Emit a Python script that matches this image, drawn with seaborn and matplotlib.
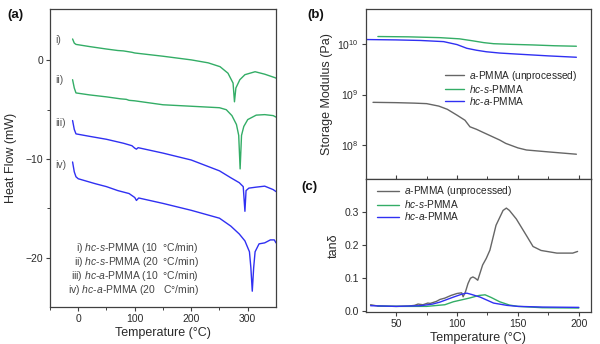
import matplotlib
matplotlib.use("Agg")
import matplotlib.pyplot as plt
import matplotlib.ticker as mticker
import numpy as np
import pandas as pd
import seaborn as sns

sns.set_theme(style="ticks")
plt.rcParams["font.family"] = ["Liberation Sans", "DejaVu Sans"]
plt.rcParams["mathtext.fontset"] = "custom"
plt.rcParams["mathtext.rm"] = "Liberation Sans"
plt.rcParams["mathtext.it"] = "Liberation Sans:italic"
plt.rcParams["mathtext.default"] = "regular"

GREEN = "#33ad66"
BLUE = "#3030f2"
GRAY = "#666666"
EDGE = "#404040"
TXT = "#2a2a2a"

# ---- DSC heat-flow traces (panel a) ----
dsc_i_T = [-10, -7, -4, 20, 50, 70, 80, 95, 100, 150, 200, 230, 251, 265, 274, 276.5,
           279, 286, 295, 313, 330, 348, 350]
dsc_i_hf = [2.17, 1.75, 1.62, 1.40, 1.15, 1.00, 0.96, 0.82, 0.75, 0.42, 0.05, -0.25, -0.64,
            -1.30, -2.30, -4.20, -2.80, -1.96, -1.45, -1.15, -1.40, -1.75, -1.80]

dsc_ii_T = [-10, -7, -4, 20, 50, 75, 85, 90, 100, 150, 200, 250, 262, 272, 280, 284,
            286.5, 289, 293, 300, 315, 330, 345, 350]
dsc_ii_hf = [-1.96, -2.80, -3.30, -3.50, -3.70, -3.90, -3.95, -4.05, -4.10, -4.50, -4.65,
             -4.80, -5.00, -5.60, -6.50, -7.60, -11.00, -7.60, -6.70, -6.00, -5.55, -5.50,
             -5.60, -5.75]

dsc_iii_T = [-10, -7, -4, 20, 50, 80, 95, 100, 103, 106, 150, 200, 250, 270, 285, 292,
             295, 297, 302, 315, 330, 345, 350]
dsc_iii_hf = [-6.10, -7.00, -7.45, -7.70, -8.00, -8.40, -8.65, -8.90, -9.00, -8.85, -9.40,
              -10.10, -11.20, -11.90, -12.40, -12.80, -15.30, -13.20, -12.95, -12.85,
              -12.75, -13.10, -13.30]

dsc_iv_T = [-10, -7, -4, 0, 30, 50, 70, 90, 100, 103, 107, 150, 200, 250, 270, 285, 295,
            303, 305.5, 308, 310.5, 313, 320, 330, 340, 347, 350]
dsc_iv_hf = [-10.30, -11.30, -11.80, -12.00, -12.50, -12.80, -13.20, -13.50, -13.90,
             -14.20, -13.95, -14.50, -15.20, -16.00, -16.80, -17.60, -18.30, -19.40,
             -21.00, -23.40, -21.00, -19.40, -18.60, -18.50, -18.20, -18.20, -18.50]

dsc_tags = ["i)", "ii)", "iii)", "iv)"]
dsc_tag_y = [2.1, -1.95, -6.35, -10.6]
dsc_notes = [
    r"i) $\mathit{hc}$-$\mathit{s}$-PMMA (10  °C/min)",
    r"ii) $\mathit{hc}$-$\mathit{s}$-PMMA (20  °C/min)",
    r"iii) $\mathit{hc}$-$\mathit{a}$-PMMA (10  °C/min)",
    r"iv) $\mathit{hc}$-$\mathit{a}$-PMMA (20   C°/min)",
]

# ---- DMA storage modulus (panel b) ----
mod_a_T = [31, 50, 65, 75, 85, 92, 100, 106.5, 110.6, 116, 121, 135, 140, 150, 157, 176, 198]
mod_a_E = [7.0e8, 6.9e8, 6.75e8, 6.6e8, 5.9e8, 5.1e8, 3.9e8, 3.1e8, 2.3e8, 2.05e8, 1.8e8,
           1.26e8, 1.08e8, 8.8e7, 8.0e7, 7.3e7, 6.6e7]
mod_s_T = [35, 60, 86, 102, 113, 122, 130, 145, 162, 180, 198]
mod_s_E = [1.40e10, 1.38e10, 1.33e10, 1.26e10, 1.15e10, 1.06e10, 1.01e10, 9.8e9, 9.55e9,
           9.2e9, 9.0e9]
mod_c_T = [26, 50, 70, 89, 100, 108, 116, 124, 135, 149, 175, 198]
mod_c_E = [1.22e10, 1.20e10, 1.17e10, 1.11e10, 9.7e9, 8.2e9, 7.5e9, 7.0e9, 6.6e9, 6.3e9,
           5.8e9, 5.45e9]

# ---- loss factor (panel c) ----
tan_a_T = [29, 35, 50, 60, 65, 68, 72, 76, 78, 83, 86, 90, 95, 100, 103.8, 105, 107, 109,
           111, 113, 115, 117, 121, 124, 127, 132, 137.8, 140.5, 143, 148.7, 157, 162.4,
           169, 182, 195, 199]
tan_a_v = [0.020, 0.016, 0.015, 0.016, 0.018, 0.022, 0.020, 0.025, 0.024, 0.030, 0.036,
           0.040, 0.048, 0.054, 0.056, 0.044, 0.060, 0.084, 0.100, 0.104, 0.100, 0.094,
           0.140, 0.160, 0.185, 0.260, 0.305, 0.312, 0.305, 0.279, 0.229, 0.196, 0.184,
           0.176, 0.176, 0.181]
tan_s_T = [35, 50, 75, 90, 97, 110, 118, 123, 128, 135, 143, 150, 170, 200]
tan_s_v = [0.016, 0.015, 0.015, 0.020, 0.029, 0.040, 0.048, 0.050, 0.042, 0.029, 0.019,
           0.015, 0.011, 0.010]
tan_c_T = [29, 50, 70, 80, 86, 97, 104, 108, 112, 119, 130, 141, 150, 170, 200]
tan_c_v = [0.017, 0.015, 0.017, 0.022, 0.028, 0.043, 0.052, 0.055, 0.051, 0.043, 0.025,
           0.018, 0.015, 0.013, 0.012]

legend_labels = [r"$\mathit{a}$-PMMA (unprocessed)", r"$\mathit{hc}$-$\mathit{s}$-PMMA",
                 r"$\mathit{hc}$-$\mathit{a}$-PMMA"]

fig = plt.figure(figsize=(6.0, 3.44), dpi=100)
ax_a = fig.add_axes([0.0833, 0.1076, 0.3767, 0.866])
ax_b = fig.add_axes([0.6095, 0.4797, 0.3755, 0.4941])
ax_c = fig.add_axes([0.6095, 0.0930, 0.3755, 0.3867])

lw = 1.0


def draw(ax, x, y, color, label=None):
    df = pd.DataFrame({"x": x, "y": y})
    sns.lineplot(data=df, x="x", y="y", ax=ax, color=color, lw=lw, estimator=None,
                 sort=False, label=label, legend=False)


# panel a
for T, hf, col in [(dsc_i_T, dsc_i_hf, GREEN), (dsc_ii_T, dsc_ii_hf, GREEN),
                   (dsc_iii_T, dsc_iii_hf, BLUE), (dsc_iv_T, dsc_iv_hf, BLUE)]:
    draw(ax_a, T, hf, col)
for tag, yy in zip(dsc_tags, dsc_tag_y):
    ax_a.text(-40, yy, tag, fontsize=7.5, color="#555555", ha="left", va="center")
for k, note in enumerate(dsc_notes):
    ax_a.text(0.659, 0.198 - k * 0.047, note, transform=ax_a.transAxes, fontsize=7.5,
              color="#444444", ha="right", va="center")
ax_a.set_xlim(-50, 350)
ax_a.set_ylim(-25, 5.2)
ax_a.xaxis.set_major_locator(mticker.FixedLocator([0, 100, 200, 300]))
ax_a.xaxis.set_minor_locator(mticker.FixedLocator([-50, 50, 150, 250]))
ax_a.yaxis.set_major_locator(mticker.FixedLocator([-20, -10, 0]))
ax_a.yaxis.set_minor_locator(mticker.FixedLocator([-15, -5]))
ax_a.set_xlabel("Temperature (°C)", fontsize=9, color=TXT, labelpad=2)
ax_a.set_ylabel("Heat Flow (mW)", fontsize=9, color=TXT, labelpad=6)

# panel b
draw(ax_b, mod_a_T, mod_a_E, GRAY, legend_labels[0])
draw(ax_b, mod_s_T, mod_s_E, GREEN, legend_labels[1])
draw(ax_b, mod_c_T, mod_c_E, BLUE, legend_labels[2])
ax_b.set_yscale("log")
ax_b.set_xlim(25, 210)
ax_b.set_ylim(10 ** 7.33, 10 ** 10.69)
ax_b.yaxis.set_major_locator(mticker.FixedLocator([1e8, 1e9, 1e10]))
ax_b.yaxis.set_minor_locator(mticker.NullLocator())
ax_b.xaxis.set_major_locator(mticker.FixedLocator([50, 100, 150, 200]))
ax_b.xaxis.set_minor_locator(mticker.FixedLocator([75, 125, 175]))
ax_b.tick_params(axis="x", which="both", direction="in", labelbottom=False)
ax_b.set_xlabel("")
ax_b.set_ylabel("Storage Modulus (Pa)", fontsize=9, color=TXT, labelpad=3)
ax_b.legend(loc="upper left", bbox_to_anchor=(0.35, 0.65), frameon=False, fontsize=7.3,
            handlelength=1.9, handletextpad=0.5, labelspacing=0.0, borderpad=0,
            borderaxespad=0)

# panel c
draw(ax_c, tan_a_T, tan_a_v, GRAY, legend_labels[0])
draw(ax_c, tan_s_T, tan_s_v, GREEN, legend_labels[1])
draw(ax_c, tan_c_T, tan_c_v, BLUE, legend_labels[2])
ax_c.set_xlim(25, 210)
ax_c.set_ylim(-0.002, 0.40)
ax_c.xaxis.set_major_locator(mticker.FixedLocator([50, 100, 150, 200]))
ax_c.xaxis.set_minor_locator(mticker.FixedLocator([75, 125, 175]))
ax_c.yaxis.set_major_locator(mticker.FixedLocator([0.0, 0.1, 0.2, 0.3]))
ax_c.yaxis.set_major_formatter(mticker.FormatStrFormatter("%.1f"))
ax_c.set_xlabel("Temperature (°C)", fontsize=9, color=TXT, labelpad=2)
ax_c.set_ylabel("tanδ", fontsize=9, color=TXT, labelpad=3)
ax_c.legend(loc="upper left", bbox_to_anchor=(0.05, 0.96), frameon=False, fontsize=7.3,
            handlelength=2.2, handletextpad=0.5, labelspacing=0.0, borderpad=0,
            borderaxespad=0)

for ax in (ax_a, ax_b, ax_c):
    for s in ax.spines.values():
        s.set_visible(True)
        s.set_color(EDGE)
        s.set_linewidth(0.9)
    ax.tick_params(which="major", length=3, width=0.8, color=EDGE, labelsize=7.5,
                   labelcolor=TXT, pad=2)
    ax.tick_params(which="minor", length=2, width=0.7, color=EDGE)

fig.text(0.012, 0.948, "(a)", fontsize=9.5, fontweight="bold", color="#111111")
fig.text(0.512, 0.948, "(b)", fontsize=9.5, fontweight="bold", color="#111111")
fig.text(0.503, 0.448, "(c)", fontsize=9.5, fontweight="bold", color="#111111")

fig.savefig("out.png", dpi=100)
